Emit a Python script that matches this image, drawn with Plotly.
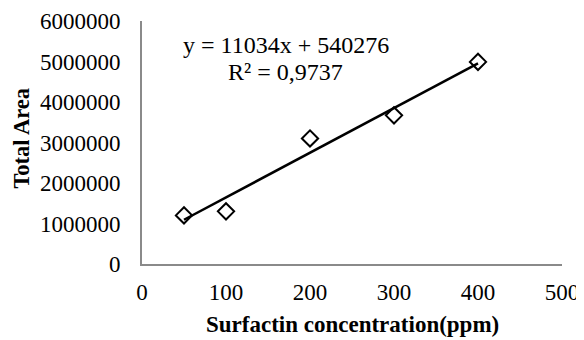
import plotly.graph_objects as go

conc = [50, 100, 200, 300, 400]
area = [1200000, 1300000, 3100000, 3670000, 4990000]
slope = 11034
intercept = 540276
r2_text = "R² = 0,9737"
eq_text = "y = 11034x + 540276"
x_title = "<b>Surfactin concentration(ppm)</b>"
y_title = "<b>Total Area</b>"
trend_x = [min(conc), max(conc)]
trend_y = [slope * x + intercept for x in trend_x]

font = "Liberation Serif, Times New Roman, serif"

fig = go.Figure()
fig.add_trace(go.Scatter(x=trend_x, y=trend_y, mode="lines",
                         line=dict(color="black", width=2.5), showlegend=False))
fig.add_trace(go.Scatter(x=conc, y=area, mode="markers",
                         marker=dict(symbol="diamond-open", size=12.5, color="black",
                                     line=dict(width=2, color="black")),
                         showlegend=False))

fig.add_annotation(x=0.344, y=0.901, xref="paper", yref="paper", text=eq_text,
                   showarrow=False, font=dict(family=font, size=24, color="black"),
                   xanchor="center", yanchor="middle")
fig.add_annotation(x=0.342, y=0.790, xref="paper", yref="paper", text=r2_text,
                   showarrow=False, font=dict(family=font, size=24, color="black"),
                   xanchor="center", yanchor="middle")
fig.add_annotation(x=0.5, y=-0.251, xref="paper", yref="paper", text=x_title,
                   showarrow=False, font=dict(family=font, size=23, color="black"),
                   xanchor="center", yanchor="middle")
fig.add_annotation(x=-0.287, y=0.518, xref="paper", yref="paper", text=y_title,
                   showarrow=False, textangle=-90,
                   font=dict(family=font, size=22.5, color="black"),
                   xanchor="center", yanchor="middle")

# page body has an 8px default margin, so the figure is sized to fit the 584x340 window
fig.update_layout(
    width=576, height=332,
    margin=dict(l=134, r=22, t=13, b=76),
    paper_bgcolor="white", plot_bgcolor="white",
    font=dict(family=font, size=23, color="black"),
    xaxis=dict(range=[0, 500], tickvals=[0, 100, 200, 300, 400, 500],
               showgrid=False, zeroline=False, showline=True, linecolor="#8a8a8a",
               linewidth=2, ticks="", ticklabelstandoff=6, automargin=False),
    yaxis=dict(range=[0, 6000000], tickvals=[0, 1000000, 2000000, 3000000, 4000000, 5000000, 6000000],
               tickformat="d", showgrid=False, zeroline=False, showline=True,
               linecolor="#8a8a8a", linewidth=2, ticks="", ticklabelstandoff=15,
               automargin=False),
)

fig.write_html("out.html")
